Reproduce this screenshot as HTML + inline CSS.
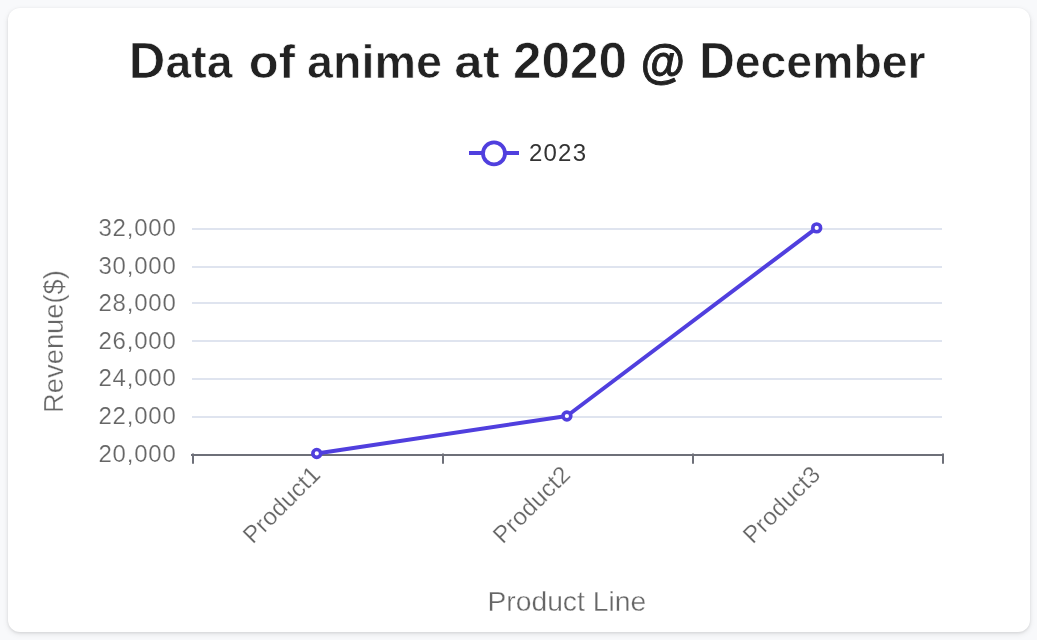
<!DOCTYPE html>
<html>
<head>
<meta charset="utf-8">
<style>
html,body{margin:0;padding:0;}
body{width:1037px;height:640px;background:#f8f9fb;position:relative;overflow:hidden;font-family:"Liberation Sans",Arial,sans-serif;}
.card{position:absolute;left:8px;top:8px;width:1022px;height:624px;background:#fff;border-radius:12px;box-shadow:0 1px 3px rgba(0,0,0,0.1),0 2px 6px rgba(0,0,0,0.08);}
svg{position:absolute;left:0;top:0;will-change:transform;}
</style>
</head>
<body>
<div class="card"></div>
<svg width="1037" height="640" viewBox="0 0 1037 640" font-family="Liberation Sans, Arial, sans-serif">
  <!-- title -->
  <text y="77.8" font-size="47" font-weight="bold" fill="#222" stroke="#fff" stroke-width="0.7"><tspan x="128.8" font-size="49.3" textLength="36.6" lengthAdjust="spacingAndGlyphs">D</tspan><tspan x="165.45" textLength="67.0" lengthAdjust="spacingAndGlyphs">ata</tspan> <tspan x="248.80" textLength="46.25" lengthAdjust="spacingAndGlyphs">of</tspan> <tspan x="307.10" textLength="135.00" lengthAdjust="spacingAndGlyphs">anime</tspan> <tspan x="454.35" textLength="45.30" lengthAdjust="spacingAndGlyphs">at</tspan> <tspan x="512.95" font-size="50" textLength="114.0" lengthAdjust="spacingAndGlyphs">2020</tspan> <tspan x="640.7" textLength="44.2" lengthAdjust="spacingAndGlyphs" stroke="#222" stroke-width="0.9">@</tspan> <tspan x="699.0" font-size="49.3" textLength="36.0" lengthAdjust="spacingAndGlyphs">D</tspan><tspan x="734.7" textLength="191.0" lengthAdjust="spacingAndGlyphs">ecember</tspan></text>
  <!-- legend -->
  <line x1="469" y1="153" x2="519" y2="153" stroke="#503fde" stroke-width="4"/>
  <circle cx="494" cy="153.4" r="11" fill="#fff" stroke="#503fde" stroke-width="3.8"/>
  <text x="529" y="161" font-size="24" fill="#333" letter-spacing="1.2">2023</text>
  <!-- grid lines -->
  <g stroke="#dfe4ef" stroke-width="2">
    <line x1="192" y1="229" x2="942" y2="229"/>
    <line x1="192" y1="267" x2="942" y2="267"/>
    <line x1="192" y1="303" x2="942" y2="303"/>
    <line x1="192" y1="341" x2="942" y2="341"/>
    <line x1="192" y1="379" x2="942" y2="379"/>
    <line x1="192" y1="417" x2="942" y2="417"/>
  </g>
  <!-- axis -->
  <g stroke="#6e7079" stroke-width="2">
    <line x1="191" y1="455" x2="944" y2="455"/>
    <line x1="193" y1="453.5" x2="193" y2="463.7"/>
    <line x1="443" y1="453.5" x2="443" y2="463.7"/>
    <line x1="693" y1="453.5" x2="693" y2="463.7"/>
    <line x1="943" y1="453.5" x2="943" y2="463.7"/>
  </g>
  <!-- y labels -->
  <g font-size="24" fill="#666" text-anchor="end" letter-spacing="0.8" stroke="#fff" stroke-width="0.2">
    <text x="176.6" y="236">32,000</text>
    <text x="176.6" y="274">30,000</text>
    <text x="176.6" y="311">28,000</text>
    <text x="176.6" y="349">26,000</text>
    <text x="176.6" y="386">24,000</text>
    <text x="176.6" y="424">22,000</text>
    <text x="176.6" y="462">20,000</text>
  </g>
  <!-- x labels -->
  <g font-size="24" fill="#666" text-anchor="end" letter-spacing="0.2" stroke="#fff" stroke-width="0.2">
    <text transform="translate(321.8 475.8) rotate(-45)">Product1</text>
    <text transform="translate(571.8 475.8) rotate(-45)">Product2</text>
    <text transform="translate(821.8 475.8) rotate(-45)">Product3</text>
  </g>
  <!-- axis names -->
  <text x="487.5" y="611" font-size="28.5" fill="#666" stroke="#fff" stroke-width="0.35" textLength="158.6" lengthAdjust="spacingAndGlyphs">Product Line</text>
  <text transform="translate(62.8 341.5) rotate(-90)" font-size="28" fill="#666" text-anchor="middle" stroke="#fff" stroke-width="0.35" textLength="142.8" lengthAdjust="spacingAndGlyphs">Revenue($)</text>
  <!-- series -->
  <polyline points="316.75,453.45 566.9,416 816.7,227.9" fill="none" stroke="#503fde" stroke-width="4" stroke-linejoin="bevel"/>
  <g fill="#fff" stroke="#503fde" stroke-width="3.6">
    <circle cx="316.75" cy="453.45" r="3.9"/>
    <circle cx="566.9" cy="416" r="3.9"/>
    <circle cx="816.7" cy="227.9" r="3.9"/>
  </g>
</svg>
</body>
</html>
